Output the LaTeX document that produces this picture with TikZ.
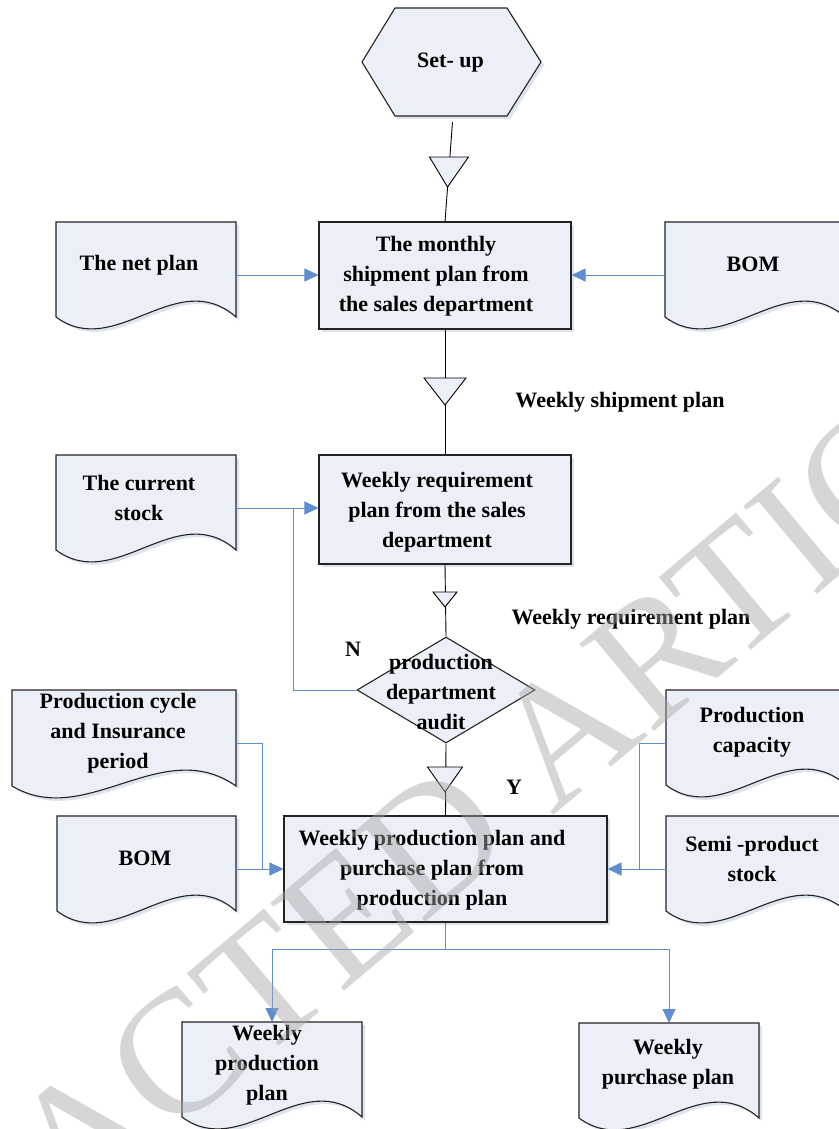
\documentclass[tikz,border=0pt]{standalone}
\usepackage{fontspec}
\setmainfont{Liberation Serif}
\usetikzlibrary{arrows.meta,shapes.geometric,shadows,calc}
\definecolor{boxfill}{RGB}{235,240,248}
\definecolor{boxline}{RGB}{35,35,35}
\definecolor{lineblue}{RGB}{96,140,208}
\definecolor{shadowc}{RGB}{222,228,238}
\definecolor{wmark}{RGB}{166,166,166}
\tikzset{
  boxst/.style={draw=boxline, fill=boxfill, line width=1.1pt, inner sep=0pt,
    drop shadow={shadow xshift=3pt, shadow yshift=-3pt, fill=shadowc, opacity=1}},
  docst/.style={draw=boxline, fill=boxfill, line width=1.1pt},
  lbl/.style={font=\bfseries\fontsize{22}{30}\selectfont, align=center, inner sep=0pt},
  bl/.style={draw=lineblue, line width=0.9pt},
  arr/.style={bl, -{Triangle[length=14pt,width=13pt]}, color=lineblue},
  blk/.style={draw=black, line width=0.9pt},
  tri/.style={draw=black, fill=boxfill, line width=0.9pt},
  wm/.style={font=\fontsize{175}{175}\selectfont, text=wmark, text opacity=0.45, rotate=40, inner sep=0pt}
}
\newcommand\docshape[5]{%
  \fill[shadowc, shift={(3,3)}] (#2,#3) -- (#2+#4,#3) -- (#2+#4,#3+#5)
     .. controls (#2+0.67*#4,#3+#5-52) and (#2+0.33*#4,#3+#5+44) .. (#2,#3+#5) -- cycle;
  \draw[docst] (#2,#3) -- (#2+#4,#3) -- (#2+#4,#3+#5)
     .. controls (#2+0.67*#4,#3+#5-52) and (#2+0.33*#4,#3+#5+44) .. (#2,#3+#5) -- cycle;
  \node[inner sep=0pt, outer sep=0pt, minimum width=#4, minimum height=#5+11, anchor=north west] (#1) at (#2,#3) {};
}
\begin{document}
\begin{tikzpicture}[x=1pt,y=-1pt]
\fill[white] (0,0) rectangle (838,1129);
\useasboundingbox (0,0) rectangle (838,1129);

% hexagon
\fill[shadowc, shift={(3,3)}] (362,62) -- (395,8) -- (507,8) -- (541,62) -- (507,116) -- (395,116) -- cycle;
\draw[docst] (362,62) -- (395,8) -- (507,8) -- (541,62) -- (507,116) -- (395,116) -- cycle;
\node[inner sep=0pt, minimum width=179, minimum height=108] (hex) at (451.5,62) {};
\node[lbl] (thex) at (450.5,63) {Set- up};

% boxes
\node[boxst, minimum width=252, minimum height=107] (box1) at (445,275.5) {};
\node[boxst, minimum width=252, minimum height=109] (box2) at (445,509.5) {};
\node[boxst, minimum width=323, minimum height=106] (box3) at (445.5,869) {};
\node[draw=boxline, fill=boxfill, line width=1.1pt, shape=diamond, inner sep=0pt,
      minimum width=178, minimum height=106] (audit) at (446,690) {};

% documents
\docshape{net}{56}{222}{180}{95}
\docshape{bomA}{665}{222}{180}{95}
\docshape{cur}{56}{455}{180}{95}
\docshape{cyc}{12}{690}{224}{96}
\docshape{bomB}{57}{816}{179}{95}
\docshape{cap}{666}{690}{180}{95}
\docshape{semi}{666}{816}{180}{95}
\docshape{wprod}{182}{1022}{180}{95}
\docshape{wpur}{579}{1023}{180}{95}

% black flow line
\draw[blk] ($(hex.south)+(1,6)$) -- (box1.north);
\draw[blk] (box1.south) -- (box2.north);
\draw[blk] (box2.south) -- (audit.north);
\draw[blk] (audit.south) -- (box3.north);

% triangles
\draw[tri] (429.5,157) -- (468.5,157) -- (447.5,187) -- cycle;
\draw[tri] (424,378) -- (466,378) -- (445,405) -- cycle;
\draw[tri] (433,592) -- (457,592) -- (445,607) -- cycle;
\draw[tri] (427.5,767) -- (462.5,767) -- (445,792) -- cycle;

% blue connectors
\draw[arr] (net.east) -- (net.east -| box1.west);
\draw[arr] (bomA.west) -- (bomA.west -| box1.east);
\draw[arr] (cur.east) -- (cur.east -| box2.west);
\coordinate (jn) at (293,508);
\draw[bl] (audit.west) -| (jn);
\coordinate (jl) at (262,869);
\draw[bl] (cyc.east) -| (jl);
\draw[arr] (bomB.east) -- (bomB.east -| box3.west);
\coordinate (jr) at (639,869);
\draw[bl] (cap.west) -| (jr);
\draw[arr] (semi.west) -- (semi.west -| box3.east);
\coordinate (split) at (445.5,949);
\draw[bl] (box3.south) -- (split);
\draw[arr] (split) -| (wprod.north);
\draw[arr] (split) -| (wpur.north);

% texts
\node[lbl] (t1) at (436,276) {The monthly\\shipment plan from\\the sales department};
\node[lbl] (t2) at (437,512) {Weekly requirement\\plan from the sales\\department};
\node[lbl] (t3) at (432,870) {Weekly production plan and\\purchase plan from\\production plan};
\node[lbl] (t4) at (441,692) {production\\department\\audit};
\node[lbl] (t5) at (139,265) {The net plan};
\node[lbl] (t6) at (139,498) {The current\\stock};
\node[lbl] (t7) at (753,264) {BOM};
\node[lbl] (t8) at (118,733) {Production cycle\\and Insurance\\period};
\node[lbl] (t9) at (145,858) {BOM};
\node[lbl] (t10) at (752,732) {Production\\capacity};
\node[lbl] (t11) at (752,859) {Semi -product\\stock};
\node[lbl] (t12) at (267,1065) {Weekly\\production\\plan};
\node[lbl] (t13) at (668,1064) {Weekly\\purchase plan};
\node[lbl] (l1) at (620,402) {Weekly shipment plan};
\node[lbl] (l2) at (631,619) {Weekly requirement plan};
\node[lbl] (lN) at (353,649) {N};
\node[lbl] (lY) at (514,787) {Y};

% watermark
\node[wm] (wmk) at (383,884) {RETRACTED ARTICLE};
\end{tikzpicture}
\end{document}
